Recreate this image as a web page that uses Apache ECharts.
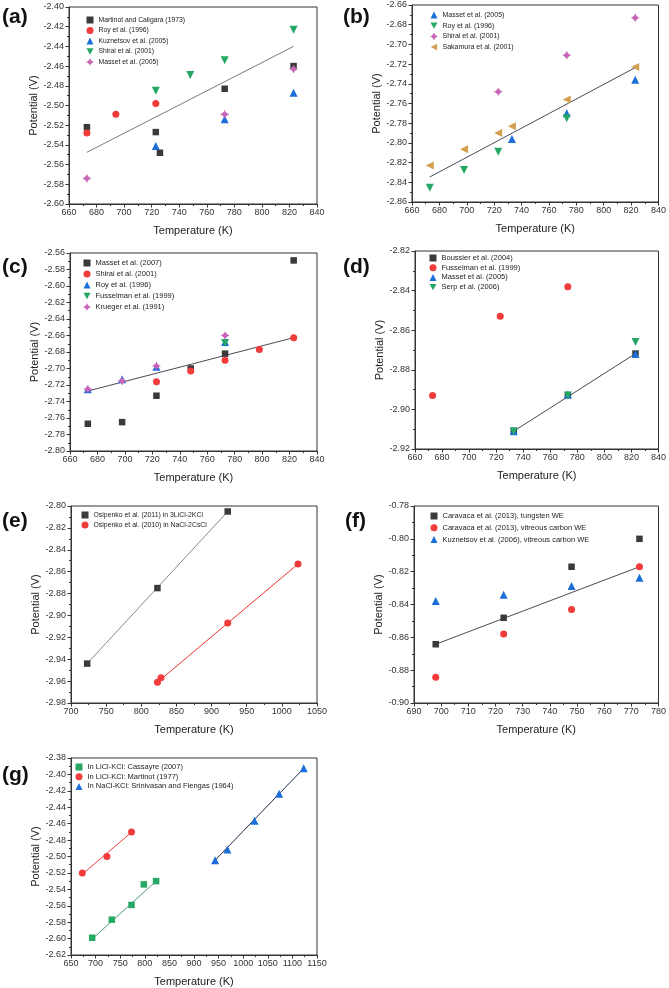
<!DOCTYPE html>
<html><head><meta charset="utf-8">
<script src="https://cdn.jsdelivr.net/npm/echarts@6/dist/echarts.min.js"></script>
<style>html,body{margin:0;padding:0;background:#fff}#c{width:669px;height:988px}</style>
</head><body><div id="c"></div><script>
// ---------- DATA (Temperature K, Potential V) ----------
// (a)
const aMartinot = [[673,-2.522],[723,-2.527],[726,-2.548],[773,-2.483],[823,-2.460]];
const aRoy = [[673,-2.528],[694,-2.509],[723,-2.498]];
const aKuznetsov = [[723,-2.541],[773,-2.514],[823,-2.487]];
const aShirai = [[723,-2.485],[748,-2.469],[773,-2.454],[823,-2.423]];
const aMasset = [[673,-2.574],[773,-2.509],[823,-2.463]];
const aFit = [[673,-2.5475],[823,-2.440]];
// (b)
const bMasset = [[733,-2.796],[773,-2.770],[823,-2.736]];
const bRoy = [[673,-2.8455],[698,-2.8275],[723,-2.809],[773,-2.775]];
const bShirai = [[723,-2.748],[773,-2.711],[823,-2.673]];
const bSakamura = [[673,-2.823],[698,-2.8065],[723,-2.790],[733,-2.783],[773,-2.756],[823,-2.723]];
const bFit = [[673,-2.8346],[823,-2.7236]];
// (c)
const cMasset = [[673,-2.767],[698,-2.765],[723,-2.733],[748,-2.700],[773,-2.682],[823,-2.569]];
const cShirai = [[723,-2.716],[748,-2.703],[773,-2.690],[798,-2.677],[823,-2.6626]];
const cRoy = [[673,-2.725],[698,-2.713],[723,-2.698],[773,-2.668]];
const cFusselman = [[773,-2.669]];
const cKrueger = [[673,-2.725],[698,-2.715],[723,-2.697],[773,-2.660]];
const cFit = [[673,-2.7273],[823,-2.6626]];
// (d)
const dBoussier = [[733,-2.911],[773,-2.8928],[823,-2.8718]];
const dFusselman = [[673,-2.893],[723,-2.853],[773,-2.838]];
const dMasset = [[733,-2.911],[773,-2.8925],[823,-2.872]];
const dSerp = [[733,-2.911],[773,-2.893],[823,-2.866]];
const dFit = [[733,-2.911],[823,-2.8718]];
// (e)
const eOsip2011 = [[723,-2.944],[823,-2.875],[923,-2.805]];
const eOsip2010 = [[823,-2.961],[828,-2.957],[923,-2.907],[1023,-2.853]];
const eFit2011 = [[723,-2.944],[923,-2.805]];
const eFit2010 = [[823,-2.961],[1023,-2.853]];
// (f)
const fTungsten = [[698,-0.8642],[723,-0.8481],[748,-0.817],[773,-0.800]];
const fVitreous = [[698,-0.8843],[723,-0.858],[748,-0.843],[773,-0.817]];
const fKuznetsov = [[698,-0.8378],[723,-0.834],[748,-0.8288],[773,-0.8237]];
const fFit = [[698,-0.8642],[773,-0.817]];
// (g)
const gCassayre = [[693,-2.599],[733,-2.577],[773,-2.559],[798,-2.534],[823,-2.530]];
const gMartinot = [[673,-2.520],[723,-2.500],[773,-2.470]];
const gSrinivasan = [[943,-2.5045],[968,-2.4915],[1023,-2.4565],[1073,-2.4235],[1123,-2.3926]];
const gFitCassayre = [[693,-2.6005],[823,-2.530]];
const gFitMartinot = [[673,-2.5215],[773,-2.4705]];
const gFitSrinivasan = [[943,-2.5045],[1123,-2.3926]];

// axis ranges
const xRanges = {a:[660,840,20], b:[660,840,20], c:[660,840,20], d:[660,840,20], e:[700,1050,50], f:[690,780,10], g:[650,1150,50]};
const yRanges = {a:[-2.60,-2.40,0.02], b:[-2.86,-2.66,0.02], c:[-2.80,-2.56,0.02], d:[-2.92,-2.82,0.02], e:[-2.98,-2.80,0.02], f:[-0.90,-0.78,0.02], g:[-2.62,-2.38,0.02]};
const xName = 'Temperature (K)';
const yName = 'Potential (V)';

// ---------- STYLE ----------
const FONT = 'Liberation Sans, Arial, sans-serif';
const C = {black:'#3a3a3a', red:'#f23b3b', blue:'#1c6fd8', green:'#25a865', pink:'#c766b8', tan:'#d2a04e'};
const SYM = {
  square:'rect', circle:'circle', up:'triangle',
  down:'path://M0,0 L10,0 L5,9 Z',
  left:'path://M9,0 L9,10 L0,5 Z',
  dcross:'path://M5,0.6 L9.4,5 L5,9.4 L0.6,5 Z M4.35,0 L5.65,0 L5.65,10 L4.35,10 Z M0,4.35 L10,4.35 L10,5.65 L0,5.65 Z'
};
const SIZE = {square:6.5, circle:7, up:8, down:8, left:8, dcross:8};

const layout = {
  a:{grid:[69,7,248,197], legend:[86.5,15,0.5,6.8], label:[2,18]},
  b:{grid:[412,5,247,197], legend:[430.5,10,0.7,7], label:[343,18]},
  c:{grid:[70,253,247,198], legend:[83.5,258,1.0,7.5], label:[2,268]},
  d:{grid:[415,251,245,198], legend:[429.5,253,-0.3,7.5], label:[343,268]},
  e:{grid:[71,506,246,197], legend:[81.5,510,0,6.9], label:[2,522]},
  f:{grid:[414,506,246,197], legend:[430.5,511,1.8,7.5], label:[345,522]},
  g:{grid:[71,758,246,197], legend:[75.5,762,-0.3,7.5], label:[2,776]}
};

const panels = {
  a:{scatter:[['Martinot and Caligara (1973)',aMartinot,'square','black'],['Roy et al. (1996)',aRoy,'circle','red'],['Kuznetsov et al. (2005)',aKuznetsov,'up','blue'],['Shirai et al. (2001)',aShirai,'down','green'],['Masset et al. (2005)',aMasset,'dcross','pink']],
     lines:[[aFit,'#7a7a7a']]},
  b:{scatter:[['Masset et al. (2005)',bMasset,'up','blue'],['Roy et al. (1996)',bRoy,'down','green'],['Shirai et al. (2001)',bShirai,'dcross','pink'],['Sakamura et al. (2001)',bSakamura,'left','tan']],
     lines:[[bFit,'#4a4a5a']]},
  c:{scatter:[['Masset et al. (2007)',cMasset,'square','black'],['Shirai et al. (2001)',cShirai,'circle','red'],['Roy et al. (1996)',cRoy,'up','blue'],['Fusselman et al. (1999)',cFusselman,'down','green'],['Krueger et al. (1991)',cKrueger,'dcross','pink']],
     lines:[[cFit,'#4a4a5a']]},
  d:{scatter:[['Boussier et al. (2004)',dBoussier,'square','black'],['Fusselman et al. (1999)',dFusselman,'circle','red'],['Masset et al. (2005)',dMasset,'up','blue'],['Serp et al. (2006)',dSerp,'down','green']],
     lines:[[dFit,'#4a4a5a']]},
  e:{scatter:[['Osipenko et al. (2011) in 3LiCl-2KCl',eOsip2011,'square','black'],['Osipenko et al. (2010) in NaCl-2CsCl',eOsip2010,'circle','red']],
     lines:[[eFit2011,'#8a8a8a'],[eFit2010,'#f03030']]},
  f:{scatter:[['Caravaca et al. (2013), tungsten WE',fTungsten,'square','black'],['Caravaca et al. (2013), vitreous carbon WE',fVitreous,'circle','red'],['Kuznetsov et al. (2006), vitreous carbon WE',fKuznetsov,'up','blue']],
     lines:[[fFit,'#4a4a5a']]},
  g:{scatter:[['In LiCl-KCl: Cassayre (2007)',gCassayre,'square','green'],['In LiCl-KCl: Martinot (1977)',gMartinot,'circle','red'],['In NaCl-KCl: Srinivasan and Flengas (1964)',gSrinivasan,'up','blue']],
     lines:[[gFitCassayre,'#4f9a82'],[gFitMartinot,'#ee4040'],[gFitSrinivasan,'#1c2a4a']]}
};

const keys = ['a','b','c','d','e','f','g'];
const option = {animation:false, backgroundColor:'#fff', textStyle:{fontFamily:FONT},
  grid:[], xAxis:[], yAxis:[], legend:[], series:[], graphic:[]};

keys.forEach((k, i) => {
  const L = layout[k], P = panels[k];
  option.grid.push({left:L.grid[0], top:L.grid[1], width:L.grid[2], height:L.grid[3],
    show:true, borderColor:'#333', borderWidth:1, backgroundColor:'transparent'});
  const axisCommon = {
    axisLine:{show:true, onZero:false, lineStyle:{color:'#333', width:1}},
    axisTick:{show:true, inside:false, length:3.5, lineStyle:{color:'#333'}},
    minorTick:{show:true, splitNumber:2, length:2, lineStyle:{color:'#333'}},
    splitLine:{show:false}, minorSplitLine:{show:false},
    nameLocation:'middle',
    nameTextStyle:{fontSize:11, color:'#222', fontFamily:FONT}
  };
  const xr = xRanges[k], yr = yRanges[k];
  option.xAxis.push(Object.assign({}, axisCommon, {type:'value', gridIndex:i, min:xr[0], max:xr[1], interval:xr[2],
    name:xName, nameGap:21,
    axisLabel:{fontSize:9, color:'#333', margin:4, fontFamily:FONT, formatter:v=>String(Math.round(v))}}));
  option.yAxis.push(Object.assign({}, axisCommon, {type:'value', gridIndex:i, min:yr[0], max:yr[1], interval:yr[2],
    name:yName, nameGap:25,
    axisLabel:{fontSize:9, color:'#333', margin:5, fontFamily:FONT, formatter:v=>v.toFixed(2)}}));
  P.lines.forEach((ln) => {
    option.series.push({type:'line', xAxisIndex:i, yAxisIndex:i, data:ln[0], showSymbol:false, symbol:'none',
      lineStyle:{color:ln[1], width:1}, silent:true, z:1});
  });
  const names = [];
  P.scatter.forEach((s) => {
    const nm = s[0] + '#' + k;
    names.push(nm);
    option.series.push({type:'scatter', name:nm, xAxisIndex:i, yAxisIndex:i, data:s[1],
      symbol:SYM[s[2]], symbolSize:SIZE[s[2]], itemStyle:{color:C[s[3]], opacity:1}, z:3});
  });
  option.legend.push({data:names, orient:'vertical', left:L.legend[0], top:L.legend[1], padding:0,
    itemGap:L.legend[2], itemWidth:7, itemHeight:7, selectedMode:false,
    formatter:n=>n.replace(/#.*$/,''),
    textStyle:{fontSize:L.legend[3], color:'#222', fontFamily:FONT, lineHeight:10}});
  option.graphic.push({type:'text', left:L.label[0], top:L.label[1]-11,
    style:{text:'('+k+')', font:'bold 21px '+FONT, fill:'#111'}});
});

const chart = echarts.init(document.getElementById('c'), null, {renderer:'canvas'});
chart.setOption(option);
</script></body></html>
